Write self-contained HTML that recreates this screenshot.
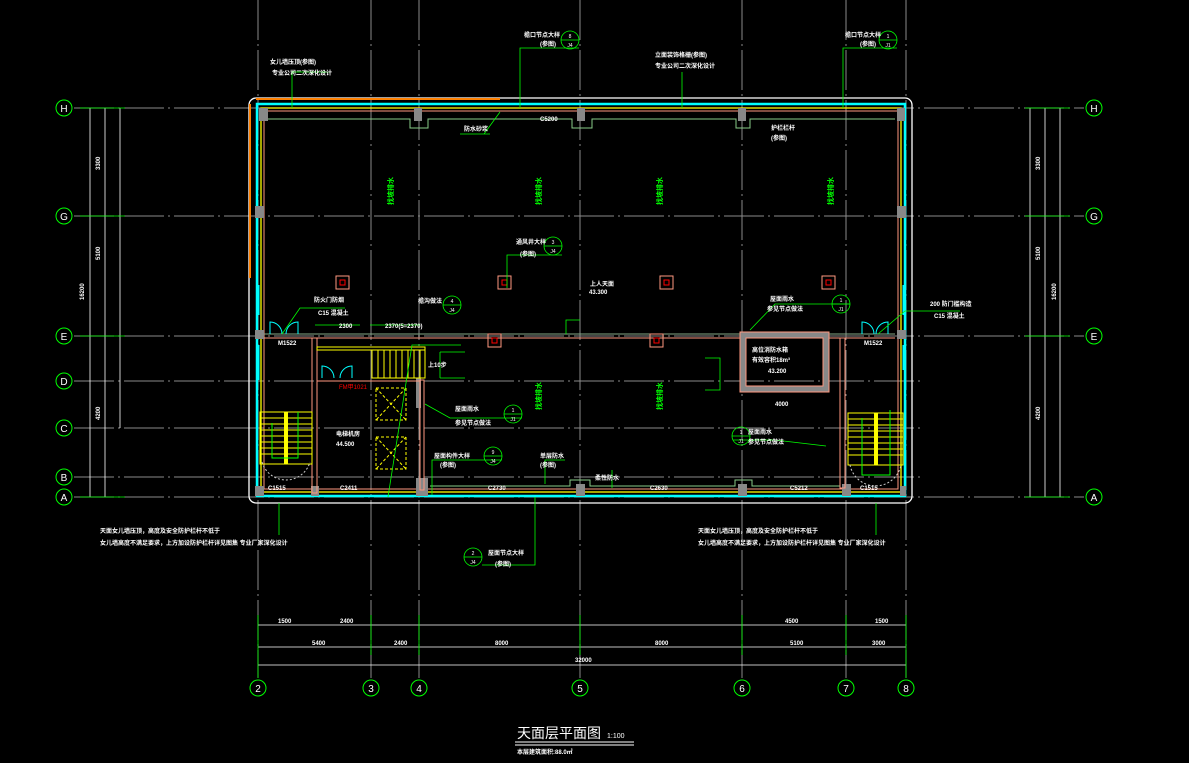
<!DOCTYPE html>
<html><head><meta charset="utf-8"><style>
html,body{margin:0;padding:0;background:#000;}
svg{display:block;font-family:"Liberation Sans","Noto Sans CJK SC",sans-serif;}
.t{fill:#fff;font-size:6px;font-weight:bold;}
.g{fill:#0f0;font-size:6px;}
</style></head><body>
<svg width="1189" height="763" viewBox="0 0 1189 763" xmlns="http://www.w3.org/2000/svg">
<rect width="1189" height="763" fill="#000"/>
<g stroke="#8a8a8a" stroke-width="1" stroke-dasharray="40,4,2,4" fill="none">
<line x1="258" y1="0" x2="258" y2="678"/>
<line x1="371" y1="0" x2="371" y2="678"/>
<line x1="419" y1="0" x2="419" y2="678"/>
<line x1="580" y1="0" x2="580" y2="678"/>
<line x1="742" y1="0" x2="742" y2="678"/>
<line x1="846" y1="0" x2="846" y2="678"/>
<line x1="906" y1="0" x2="906" y2="678"/>
<line x1="74" y1="108" x2="1084" y2="108"/>
<line x1="74" y1="216" x2="1084" y2="216"/>
<line x1="74" y1="336" x2="1084" y2="336"/>
<line x1="74" y1="381" x2="920" y2="381"/>
<line x1="74" y1="428" x2="920" y2="428"/>
<line x1="74" y1="477" x2="920" y2="477"/>
<line x1="74" y1="497" x2="1084" y2="497"/>
</g>
<g stroke="#0f0" fill="none" stroke-width="1">
<circle cx="64" cy="108" r="8"/><circle cx="64" cy="216" r="8"/><circle cx="64" cy="336" r="8"/>
<circle cx="64" cy="381" r="8"/><circle cx="64" cy="428" r="8"/><circle cx="64" cy="477" r="8"/><circle cx="64" cy="497" r="8"/>
<circle cx="1094" cy="108" r="8"/><circle cx="1094" cy="216" r="8"/><circle cx="1094" cy="336" r="8"/><circle cx="1094" cy="497" r="8"/>
<circle cx="258" cy="688" r="8"/><circle cx="371" cy="688" r="8"/><circle cx="419" cy="688" r="8"/><circle cx="580" cy="688" r="8"/>
<circle cx="742" cy="688" r="8"/><circle cx="846" cy="688" r="8"/><circle cx="906" cy="688" r="8"/>
</g>
<g fill="#fff" font-size="10" text-anchor="middle">
<text x="64" y="112">H</text><text x="64" y="220">G</text><text x="64" y="340">E</text><text x="64" y="385">D</text><text x="64" y="432">C</text><text x="64" y="481">B</text><text x="64" y="501">A</text>
<text x="1094" y="112">H</text><text x="1094" y="220">G</text><text x="1094" y="340">E</text><text x="1094" y="501">A</text>
<text x="258" y="692">2</text><text x="371" y="692">3</text><text x="419" y="692">4</text><text x="580" y="692">5</text><text x="742" y="692">6</text><text x="846" y="692">7</text><text x="906" y="692">8</text>
</g>
<g stroke="#fff" stroke-width="0.8">
<line x1="90" y1="108" x2="90" y2="497"/><line x1="105" y1="108" x2="105" y2="497"/><line x1="120" y1="108" x2="120" y2="428"/>
<line x1="1060" y1="108" x2="1060" y2="497"/><line x1="1045" y1="108" x2="1045" y2="497"/><line x1="1030" y1="108" x2="1030" y2="497"/>
<line x1="258" y1="625" x2="906" y2="625"/><line x1="258" y1="647" x2="906" y2="647"/><line x1="258" y1="665" x2="906" y2="665"/>
</g>
<g stroke="#0f0" stroke-width="0.8">
<line x1="258" y1="615" x2="258" y2="678"/><line x1="906" y1="615" x2="906" y2="678"/>
<line x1="371" y1="615" x2="371" y2="655"/><line x1="419" y1="615" x2="419" y2="655"/><line x1="580" y1="615" x2="580" y2="655"/><line x1="742" y1="615" x2="742" y2="655"/><line x1="846" y1="615" x2="846" y2="655"/>
<line x1="80" y1="108" x2="125" y2="108"/><line x1="80" y1="216" x2="125" y2="216"/><line x1="80" y1="336" x2="125" y2="336"/><line x1="80" y1="497" x2="125" y2="497"/>
<line x1="1025" y1="108" x2="1070" y2="108"/><line x1="1025" y1="216" x2="1070" y2="216"/><line x1="1025" y1="336" x2="1070" y2="336"/><line x1="1025" y1="497" x2="1070" y2="497"/>
</g>
<g class="t">
<text x="312" y="645">5400</text><text x="394" y="645">2400</text><text x="495" y="645">8000</text><text x="655" y="645">8000</text><text x="790" y="645">5100</text><text x="872" y="645">3000</text>
<text x="575" y="662">32000</text>
<text x="278" y="623">1500</text><text x="340" y="623">2400</text><text x="785" y="623">4500</text><text x="875" y="623">1500</text>
<text x="84" y="300" transform="rotate(-90 84 300)">16200</text>
<text x="1056" y="300" transform="rotate(-90 1056 300)">16200</text>
<text x="100" y="170" transform="rotate(-90 100 170)">3300</text><text x="100" y="260" transform="rotate(-90 100 260)">5100</text><text x="100" y="420" transform="rotate(-90 100 420)">4200</text>
<text x="1040" y="170" transform="rotate(-90 1040 170)">3300</text><text x="1040" y="260" transform="rotate(-90 1040 260)">5100</text><text x="1040" y="420" transform="rotate(-90 1040 420)">4200</text>
</g>
<rect x="249" y="98" width="663" height="405" rx="7" fill="none" stroke="#fff" stroke-width="1.3"/>
<line x1="256" y1="99" x2="500" y2="99" stroke="#ff8000" stroke-width="2"/>
<line x1="250" y1="104" x2="250" y2="278" stroke="#ff8000" stroke-width="2"/>
<rect x="257" y="104" width="648" height="392" fill="none" stroke="#0ff" stroke-width="2.5"/>
<rect x="261" y="108" width="640" height="384" fill="none" stroke="#ff0" stroke-width="1.3"/>
<rect x="264" y="111" width="634" height="378" fill="none" stroke="#ff9980" stroke-width="1"/>
<path d="M266 119 H410 V128 H428 V119 H572 V128 H592 V119 H736 V128 H750 V119 H895" fill="none" stroke="#8c8" stroke-width="1"/>
<path d="M430 486 H570 V480 H590 V486 H735 V480 H752 V486 H840" fill="none" stroke="#8c8" stroke-width="1"/>
<g fill="#888">
<rect x="259" y="108" width="9" height="13"/><rect x="414" y="108" width="8" height="13"/><rect x="577" y="108" width="8" height="13"/><rect x="738" y="108" width="8" height="13"/><rect x="897" y="108" width="8" height="13"/>
<rect x="255" y="206" width="9" height="12"/><rect x="897" y="206" width="9" height="12"/>
<rect x="255" y="330" width="9" height="9"/><rect x="897" y="330" width="9" height="9"/>
<rect x="255" y="486" width="9" height="10"/><rect x="311" y="486" width="8" height="10"/><rect x="576" y="484" width="9" height="12"/><rect x="738" y="484" width="9" height="12"/><rect x="842" y="484" width="9" height="12"/><rect x="900" y="486" width="6" height="10"/>
<rect x="416" y="478" width="12" height="18"/><rect x="416" y="378" width="5" height="30"/>
</g>
<g fill="none" stroke="#ff9980" stroke-width="1">
<line x1="264" y1="338" x2="895" y2="338"/>
<rect x="312" y="338" width="5" height="155"/>
<rect x="420" y="380" width="4" height="110"/>
<rect x="840" y="338" width="5" height="150"/>
<line x1="317" y1="381" x2="420" y2="381"/>
</g>
<line x1="264" y1="334" x2="895" y2="334" stroke="#8a8" stroke-width="1"/>
<g stroke="#ff0" fill="none" stroke-width="1">
<rect x="260" y="412" width="52" height="52"/>
<line x1="260" y1="418" x2="312" y2="418"/><line x1="260" y1="424" x2="312" y2="424"/><line x1="260" y1="430" x2="312" y2="430"/><line x1="260" y1="436" x2="312" y2="436"/><line x1="260" y1="442" x2="312" y2="442"/><line x1="260" y1="448" x2="312" y2="448"/><line x1="260" y1="454" x2="312" y2="454"/>
<rect x="848" y="413" width="55" height="52"/>
<line x1="848" y1="419" x2="903" y2="419"/><line x1="848" y1="425" x2="903" y2="425"/><line x1="848" y1="431" x2="903" y2="431"/><line x1="848" y1="437" x2="903" y2="437"/><line x1="848" y1="443" x2="903" y2="443"/><line x1="848" y1="449" x2="903" y2="449"/><line x1="848" y1="455" x2="903" y2="455"/>
<rect x="317" y="347" width="108" height="3"/>
<rect x="372" y="350" width="53" height="28"/>
<line x1="378" y1="350" x2="378" y2="378"/><line x1="384" y1="350" x2="384" y2="378"/><line x1="390" y1="350" x2="390" y2="378"/><line x1="396" y1="350" x2="396" y2="378"/><line x1="402" y1="350" x2="402" y2="378"/><line x1="408" y1="350" x2="408" y2="378"/><line x1="414" y1="350" x2="414" y2="378"/><line x1="420" y1="350" x2="420" y2="378"/>
</g>
<rect x="284" y="412" width="4" height="52" fill="#ff0"/><rect x="874" y="413" width="4" height="52" fill="#ff0"/>
<g stroke="#ccc" fill="none" stroke-dasharray="2,2"><path d="M262 462 A25 25 0 0 0 310 462"/><path d="M850 465 A26 26 0 0 0 901 465"/></g>
<g stroke="#0f0" fill="none"><path d="M272 423 V458 H298 V412"/><path d="M862 418 V475 H890 V410"/></g>
<g stroke="#ff0" fill="none" stroke-dasharray="3,2">
<rect x="376" y="388" width="30" height="32"/><rect x="376" y="437" width="30" height="32"/>
<path d="M376 388 L406 420 M406 388 L376 420 M376 437 L406 469 M406 437 L376 469"/>
</g>
<rect x="743" y="335" width="83" height="54" fill="none" stroke="#888" stroke-width="5"/>
<rect x="740" y="332" width="89" height="60" fill="none" stroke="#ff9980"/>
<rect x="746" y="338" width="77" height="48" fill="none" stroke="#ff9980"/>
<text x="752" y="352" class="t" font-size="7">高位消防水箱</text>
<text x="752" y="362" class="t" font-size="7">有效容积18m³</text>
<text x="768" y="373" class="t">43.200</text>
<g stroke="#0ff" fill="none">
<path d="M270 334 V322 A12 12 0 0 1 282 334 M298 334 V322 A12 12 0 0 0 286 334"/>
<path d="M322 378 V366 A12 12 0 0 1 334 378 M352 378 V366 A12 12 0 0 0 340 378"/>
<path d="M862 334 V322 A12 12 0 0 1 874 334 M888 334 V322 A12 12 0 0 0 876 334"/>
<line x1="258" y1="285" x2="258" y2="315" stroke-width="3"/><line x1="258" y1="345" x2="258" y2="380" stroke-width="3"/>
<line x1="904" y1="285" x2="904" y2="315" stroke-width="3"/><line x1="904" y1="345" x2="904" y2="370" stroke-width="3"/>
</g>
<g fill="none" stroke="#ff9980">
<rect x="336" y="276" width="13" height="13"/><rect x="498" y="276" width="13" height="13"/><rect x="660" y="276" width="13" height="13"/><rect x="822" y="276" width="13" height="13"/>
<rect x="488" y="334" width="13" height="13"/><rect x="650" y="334" width="13" height="13"/>
</g>
<g fill="none" stroke="#f00"><rect x="340" y="280" width="5" height="5"/><rect x="502" y="280" width="5" height="5"/><rect x="664" y="280" width="5" height="5"/><rect x="826" y="280" width="5" height="5"/><rect x="492" y="338" width="5" height="5"/><rect x="654" y="338" width="5" height="5"/></g>
<g fill="#0f0" font-size="7" font-weight="bold">
<text x="393" y="205" transform="rotate(-90 393 205)">找坡排水</text>
<text x="541" y="205" transform="rotate(-90 541 205)">找坡排水</text>
<text x="662" y="205" transform="rotate(-90 662 205)">找坡排水</text>
<text x="833" y="205" transform="rotate(-90 833 205)">找坡排水</text>
<text x="541" y="410" transform="rotate(-90 541 410)">找坡排水</text>
<text x="662" y="410" transform="rotate(-90 662 410)">找坡排水</text>
</g>
<g stroke="#0f0" fill="none" stroke-width="0.8">
<circle cx="553" cy="246" r="9"/><circle cx="452" cy="305" r="9"/><circle cx="841" cy="304" r="9"/><circle cx="513" cy="414" r="9"/><circle cx="493" cy="456" r="9"/><circle cx="741" cy="436" r="9"/><circle cx="570" cy="40" r="9"/><circle cx="888" cy="40" r="9"/><circle cx="473" cy="557" r="9"/>
<path d="M544 246 H562 M443 305 H461 M832 304 H850 M504 414 H522 M484 456 H502 M732 436 H750 M561 40 H579 M879 40 H897 M464 557 H482"/>
<path d="M507 288 V255 H562"/><path d="M388 497 L412 345 H461"/><path d="M750 330 L775 304 H850"/><path d="M425 404 L450 418 H522"/><path d="M432 495 V460 H502"/><path d="M826 446 L775 440 H733"/>
<path d="M520 108 V48 H579"/><path d="M843 108 V48 H897"/><path d="M535 497 V565 H482"/>
<path d="M484 134 L500 112 M460 134 H490"/><path d="M682 108 V72"/><path d="M292 108 V72 H330"/>
<path d="M282 334 L300 308 H345"/><path d="M878 334 L905 311 H960"/>
<path d="M545 484 V460 H565"/><path d="M612 488 V470"/><path d="M566 334 V320 H580"/>
<path d="M279 503 V535"/><path d="M876 503 V535"/>
<path d="M315 325 H360 M370 325 H420"/>
<path d="M440 352 H465 M440 352 V378 M440 378 H465"/>
<path d="M705 358 H720 V390 H705"/>
</g>
<g fill="#fff" font-size="5" text-anchor="middle">
<text x="553" y="244">3</text><text x="553" y="253">J4</text><text x="452" y="303">4</text><text x="452" y="312">J4</text>
<text x="841" y="302">1</text><text x="841" y="311">J1</text><text x="513" y="412">1</text><text x="513" y="421">J1</text>
<text x="493" y="454">9</text><text x="493" y="463">J4</text><text x="741" y="434">1</text><text x="741" y="443">J1</text>
<text x="570" y="38">8</text><text x="570" y="47">J4</text><text x="888" y="38">1</text><text x="888" y="47">J1</text>
<text x="473" y="555">2</text><text x="473" y="564">J4</text>
</g>
<g class="t">
<text x="464" y="131">防水砂浆</text><text x="516" y="244">通风井大样</text><text x="520" y="256">(参图)</text>
<text x="590" y="286">上人天面</text><text x="589" y="294">43.300</text>
<text x="418" y="303">檐沟做法</text><text x="770" y="301">屋面雨水</text><text x="767" y="311">参见节点做法</text>
<text x="455" y="411">屋面雨水</text><text x="455" y="425">参见节点做法</text>
<text x="434" y="458">屋面构件大样</text><text x="440" y="467">(参图)</text>
<text x="540" y="458">单层防水</text><text x="540" y="467">(参图)</text><text x="595" y="480">柔性防水</text>
<text x="748" y="434">屋面雨水</text><text x="748" y="444">参见节点做法</text>
<text x="336" y="436">电梯机房</text><text x="336" y="446">44.500</text>
<text x="314" y="302">防火门防烟</text><text x="318" y="315">C15 混凝土</text>
<text x="930" y="306">200 防门槛构造</text><text x="934" y="318">C15 混凝土</text>
<text x="771" y="130">护栏栏杆</text><text x="771" y="140">(参图)</text>
<text x="270" y="64">女儿墙压顶(参图)</text><text x="272" y="75">专业公司二次深化设计</text>
<text x="655" y="57">立面装饰格栅(参图)</text><text x="655" y="68">专业公司二次深化设计</text>
<text x="524" y="37">檐口节点大样</text><text x="540" y="46">(参图)</text>
<text x="845" y="37">檐口节点大样</text><text x="860" y="46">(参图)</text>
<text x="488" y="555">屋面节点大样</text><text x="495" y="566">(参图)</text>
<text x="100" y="533">天面女儿墙压顶，高度及安全防护栏杆不低于</text><text x="100" y="545">女儿墙高度不满足要求，上方加设防护栏杆详见图集   专业厂家深化设计</text>
<text x="698" y="533">天面女儿墙压顶，高度及安全防护栏杆不低于</text><text x="698" y="545">女儿墙高度不满足要求，上方加设防护栏杆详见图集   专业厂家深化设计</text>
<text x="268" y="490">C1515</text><text x="340" y="490">C2411</text><text x="488" y="490">C2730</text><text x="650" y="490">C2630</text><text x="790" y="490">C5212</text><text x="860" y="490">C1515</text>
<text x="540" y="121">C5200</text><text x="278" y="345">M1522</text><text x="864" y="345">M1522</text>
<text x="339" y="328">2300</text><text x="385" y="328">2370(5=2370)</text><text x="775" y="406">4000</text>
<text x="428" y="367">上10步</text>
</g>
<text x="339" y="389" fill="#f00" font-size="6">FM甲1021</text>
<text x="517" y="738" fill="#fff" font-size="14">天面层平面图</text><text x="607" y="738" fill="#fff" font-size="7">1:100</text>
<line x1="515" y1="742" x2="634" y2="742" stroke="#fff"/><line x1="515" y1="745" x2="634" y2="745" stroke="#fff"/>
<text x="517" y="754" class="t">本层建筑面积:88.0㎡</text>
</svg>
</body></html>
